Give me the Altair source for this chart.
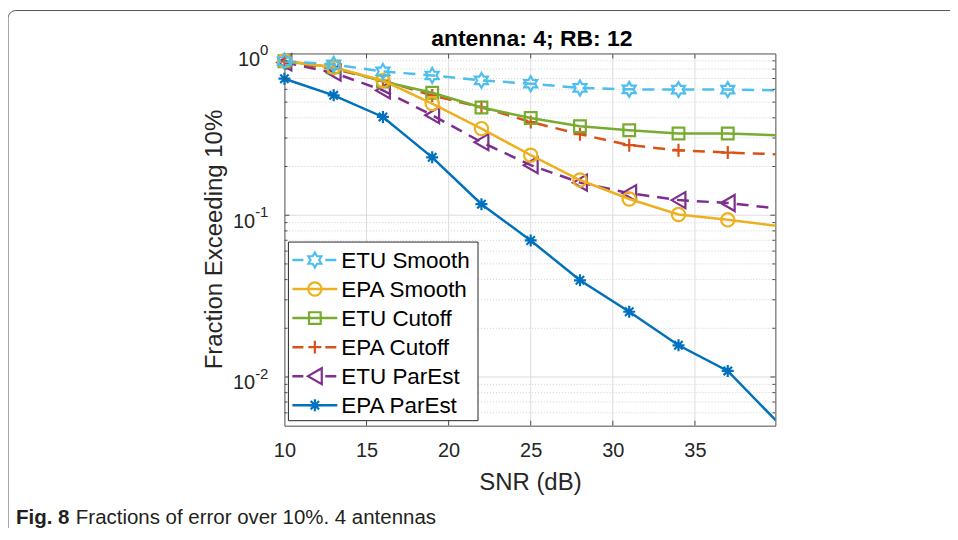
import altair as alt
import pandas as pd

# ---------------- data ----------------
snr = [10, 13, 16, 19, 22, 25, 28, 31, 34, 37, 40]
series_names = ["ETU Smooth", "EPA Smooth", "ETU Cutoff", "EPA Cutoff", "ETU ParEst", "EPA ParEst"]
etu_smooth = [0.895, 0.855, 0.774, 0.731, 0.681, 0.650, 0.612, 0.600, 0.598, 0.598, 0.592]
epa_smooth = [0.900, 0.820, 0.680, 0.490, 0.343, 0.235, 0.165, 0.126, 0.101, 0.0936, 0.0859]
etu_cutoff = [0.895, 0.822, 0.671, 0.572, 0.463, 0.399, 0.355, 0.335, 0.320, 0.320, 0.312]
epa_cutoff = [0.890, 0.800, 0.680, 0.550, 0.465, 0.377, 0.317, 0.271, 0.252, 0.244, 0.238]
etu_parest = [0.880, 0.760, 0.591, 0.415, 0.283, 0.204, 0.159, 0.137, 0.124, 0.119, 0.110]
epa_parest = [0.698, 0.551, 0.405, 0.228, 0.117, 0.0698, 0.0396, 0.0253, 0.0157, 0.0109, 0.0053]
series_values = [etu_smooth, epa_smooth, etu_cutoff, epa_cutoff, etu_parest, epa_parest]

x_tick_values = [10, 15, 20, 25, 30, 35]
x_grid_values = [15, 20, 25, 30, 35]
y_decades = [1, 0.1, 0.01]
y_exponents = ["0", "-1", "-2"]
y_minor = [0.006, 0.007, 0.008, 0.009,
           0.02, 0.03, 0.04, 0.05, 0.06, 0.07, 0.08, 0.09,
           0.2, 0.3, 0.4, 0.5, 0.6, 0.7, 0.8, 0.9]

title_text = "antenna: 4; RB: 12"
x_title = "SNR (dB)"
y_title = "Fraction Exceeding 10%"
caption_bold = "Fig. 8"
caption_rest = "Fractions of error over 10%. 4 antennas"

# ---------------- styles ----------------
FONT = "Liberation Sans"
HEXAGRAM = ("M0,-1L0.2887,-0.5L0.866,-0.5L0.577,0L0.866,0.5L0.2887,0.5L0,1"
            "L-0.2887,0.5L-0.866,0.5L-0.577,0L-0.866,-0.5L-0.2887,-0.5Z")
PLUS = "M-1,0H1M0,-1V1"
ASTER = "M-1,0H1M0,-1V1M-0.7,-0.7L0.7,0.7M-0.7,0.7L0.7,-0.7"
colors = ["#4DBEEE", "#EDB120", "#77AC30", "#D95319", "#7E2F8E", "#0072BD"]
dashed = [True, False, False, True, True, False]
shapes = [HEXAGRAM, "circle", "square", PLUS, "triangle-left", ASTER]
msizes = [225, 177, 137, 169, 256, 144]

W, H = 492, 373
XS = alt.Scale(domain=[10, 39.9], nice=False, zero=False)
YS = alt.Scale(type="log", domain=[0.005, 1], nice=False)
x_axis = alt.Axis(values=x_tick_values, grid=False, ticks=False, tickSize=0, domain=False,
                  labelFontSize=20, labelFont=FONT, labelColor="#262626", labelPadding=15,
                  labelFlush=False, title=x_title, titleFontSize=24, titleFont=FONT,
                  titleFontWeight="normal", titleColor="#262626", titlePadding=10)


def xenc():
    return alt.X("snr:Q", scale=XS, axis=x_axis)


def yenc():
    return alt.Y("val:Q", scale=YS, axis=None)


rows = []
for name, vals in zip(series_names, series_values):
    for s, v in zip(snr, vals):
        rows.append({"series": name, "snr": s, "val": v})
df = pd.DataFrame(rows)

layers = []

# grid
layers.append(alt.Chart(pd.DataFrame({"val": y_minor})).mark_rule(
    color="#c4c4c4", strokeWidth=0.8, strokeDash=[1, 2]).encode(y=yenc()))
layers.append(alt.Chart(pd.DataFrame({"val": y_decades[1:]})).mark_rule(
    color="#dcdcdc", strokeWidth=1).encode(y=yenc()))
layers.append(alt.Chart(pd.DataFrame({"snr": x_grid_values})).mark_rule(
    color="#dcdcdc", strokeWidth=1).encode(x=xenc()))

# series (last legend entry drawn first)
for i in reversed(range(len(series_names))):
    sub = df[df.series == series_names[i]]
    lkw = dict(color=colors[i], strokeWidth=2.5, clip=True)
    if dashed[i]:
        lkw["strokeDash"] = [12, 8]
    layers.append(alt.Chart(sub).mark_line(**lkw).encode(x=xenc(), y=yenc()))
    layers.append(alt.Chart(sub).mark_point(
        shape=shapes[i], size=msizes[i], filled=False, color=colors[i],
        strokeWidth=2.2, opacity=1
    ).encode(x=xenc(), y=yenc()).transform_filter(alt.datum.snr <= 38))

# inward ticks
tick_col = "#4d4d4d"
xt = pd.DataFrame({"snr": x_grid_values})
layers.append(alt.Chart(xt).mark_rule(color=tick_col).encode(x=xenc(), y=alt.value(H), y2=alt.value(H - 5)))
layers.append(alt.Chart(xt).mark_rule(color=tick_col).encode(x=xenc(), y=alt.value(0), y2=alt.value(5)))
yt = pd.DataFrame({"val": y_decades[1:]})
ym = pd.DataFrame({"val": y_minor})
layers.append(alt.Chart(yt).mark_rule(color=tick_col).encode(y=yenc(), x=alt.value(0), x2=alt.value(5)))
layers.append(alt.Chart(yt).mark_rule(color=tick_col).encode(y=yenc(), x=alt.value(W), x2=alt.value(W - 5)))
layers.append(alt.Chart(ym).mark_rule(color=tick_col).encode(y=yenc(), x=alt.value(0), x2=alt.value(3)))
layers.append(alt.Chart(ym).mark_rule(color=tick_col).encode(y=yenc(), x=alt.value(W), x2=alt.value(W - 3)))

# y tick labels 10^k
R = -16
for v, e in zip(y_decades, y_exponents):
    ew = sum(0.333 * 15 if c == "-" else 0.556 * 15 for c in e)
    d = pd.DataFrame({"val": [v], "base": ["10"], "exp": [e]})
    layers.append(alt.Chart(d).mark_text(
        align="right", baseline="alphabetic", fontSize=20, font=FONT, color="#262626", dy=12.5
    ).encode(y=yenc(), x=alt.value(R - ew), text="base:N"))
    layers.append(alt.Chart(d).mark_text(
        align="left", baseline="alphabetic", fontSize=15, font=FONT, color="#262626", dy=2
    ).encode(y=yenc(), x=alt.value(R - ew), text="exp:N"))

# legend
one = pd.DataFrame({"k": [0]})
layers.append(alt.Chart(one).mark_rect(fill="white", stroke="#262626", strokeWidth=1).encode(
    x=alt.value(4), x2=alt.value(194), y=alt.value(189), y2=alt.value(368)))
for i, name in enumerate(series_names):
    yi = 207 + i * 29.1
    lkw = dict(color=colors[i], strokeWidth=2.5)
    if dashed[i]:
        lkw["strokeDash"] = [11, 22]
    ld = pd.DataFrame({"name": [name]})
    layers.append(alt.Chart(ld).mark_rule(**lkw).encode(
        x=alt.value(8), x2=alt.value(53), y=alt.value(yi)))
    layers.append(alt.Chart(ld).mark_point(
        shape=shapes[i], size=msizes[i], filled=False, color=colors[i], strokeWidth=2.2, opacity=1
    ).encode(x=alt.value(30.5), y=alt.value(yi)))
    layers.append(alt.Chart(ld).mark_text(
        align="left", baseline="middle", fontSize=22.5, font=FONT, color="black"
    ).encode(x=alt.value(57), y=alt.value(yi + 1), text="name:N"))

# titles and caption
tdf = pd.DataFrame({"t": [title_text], "yt": [y_title], "cb": [caption_bold], "cr": [caption_rest]})
layers.append(alt.Chart(tdf).mark_text(
    align="center", baseline="alphabetic", fontSize=23, fontWeight="bold", font=FONT, color="black"
).encode(x=alt.value(248), y=alt.value(-7), text="t:N"))
layers.append(alt.Chart(tdf).mark_text(
    align="center", baseline="middle", fontSize=24, font=FONT, color="#262626", angle=270
).encode(x=alt.value(-70), y=alt.value(186.5), text="yt:N"))
layers.append(alt.Chart(tdf).mark_text(
    align="left", baseline="alphabetic", fontSize=20.5, fontWeight="bold", font=FONT, color="#231f20"
).encode(x=alt.value(-269), y=alt.value(472), text="cb:N"))
layers.append(alt.Chart(tdf).mark_text(
    align="left", baseline="alphabetic", fontSize=20.5, font=FONT, color="#231f20"
).encode(x=alt.value(-209), y=alt.value(472), text="cr:N"))

# outer frame
layers.append(alt.Chart(one).mark_rect(
    fillOpacity=0, stroke="#555555", strokeWidth=1, cornerRadius=8
).encode(x=alt.value(-277), x2=alt.value(800), y=alt.value(-43), y2=alt.value(600)))

chart = alt.layer(*layers).properties(
    width=W, height=H,
    padding={"left": 277, "top": 45, "right": 175, "bottom": 102},
    autosize=alt.AutoSizeParams(type="none"),
).configure_view(stroke="#4d4d4d", strokeWidth=1)

chart.save("out.html", embed_options={"renderer": "svg", "actions": False})
